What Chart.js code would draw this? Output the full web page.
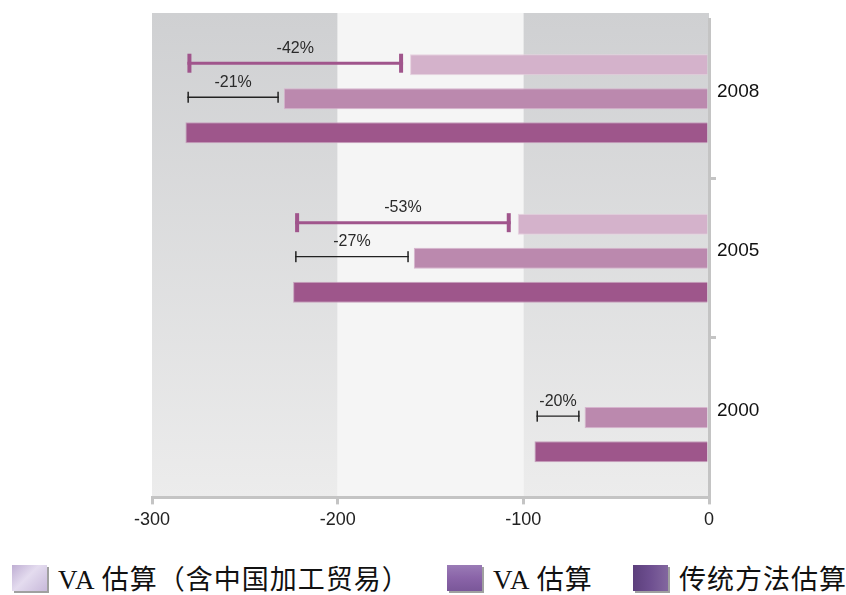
<!DOCTYPE html>
<html>
<head>
<meta charset="utf-8">
<script src="https://cdn.jsdelivr.net/npm/chart.js@4.4.1/dist/chart.umd.min.js"></script>
<style>
html, body { margin: 0; padding: 0; background: #fff; }
#wrap { position: relative; width: 846px; height: 595px; }
#chartBox { position: absolute; left: 0; top: 0; width: 846px; height: 550px; }
#legend { position: absolute; left: 0; top: 561px; width: 846px; height: 33px;
  font-family: "Liberation Serif", "Noto Sans CJK SC", serif; font-size: 27px; color: #111; letter-spacing: 1px; }
.item { position: absolute; top: 0; height: 33px; display: flex; align-items: center; white-space: nowrap; }
.box { width: 35px; height: 26px; margin-right: 11px; box-shadow: 2px 2px 0 #a0a0a0; }
</style>
</head>
<body>
<div id="wrap">
  <div id="chartBox"><canvas id="myChart"></canvas></div>
  <div id="legend"></div>
</div>
<script>
const years = ['2008', '2005', '2000'];
const vaProcessing = [-161, -103, null];
const vaEstimate = [-229, -159, -67];
const traditional = [-282, -224, -94];
const processingGap = ['-42%', '-53%', null];
const vaGap = ['-21%', '-27%', '-20%'];
const seriesNames = ['VA 估算（含中国加工贸易）', 'VA 估算', '传统方法估算'];

// shaded bands behind the bars
const bands = {
    id: 'bands',
    beforeDraw(chart) {
        const ctx = chart.ctx, a = chart.chartArea, x = chart.scales.x;
        const top = a.top - 6;
        const g = ctx.createLinearGradient(0, top, 0, a.bottom);
        g.addColorStop(0, '#cfd0d2');
        g.addColorStop(1, '#ececec');
        const edges = [-300, -200, -100, 0].map(v => x.getPixelForValue(v));
        ctx.save();
        ctx.fillStyle = g;
        ctx.fillRect(edges[0], top, edges[1] - edges[0], a.bottom - top);
        ctx.fillRect(edges[2], top, edges[3] - edges[2], a.bottom - top);
        ctx.fillStyle = '#f5f5f5';
        ctx.fillRect(edges[1], top, edges[2] - edges[1], a.bottom - top);
        ctx.restore();
    }
};

// gap markers from the traditional estimate to each VA estimate
const gapBars = {
    id: 'gapBars',
    afterDatasetsDraw(chart) {
        const ctx = chart.ctx, x = chart.scales.x;
        const specs = [
            { ds: 0, labels: processingGap, color: '#a0558c', width: 3, cap: 19, capW: 4, gap: 7 },
            { ds: 1, labels: vaGap, color: '#222', width: 1.3, cap: 11, capW: 1.5, gap: 5 }
        ];
        ctx.save();
        specs.forEach(s => {
            chart.getDatasetMeta(s.ds).data.forEach((bar, i) => {
                if (chart.data.datasets[s.ds].data[i] == null) return;
                const x0 = x.getPixelForValue(traditional[i]) + 2;
                const x1 = bar.x - s.gap;
                const y = bar.y - 1.5;
                ctx.strokeStyle = s.color;
                ctx.fillStyle = s.color;
                ctx.lineWidth = s.width;
                ctx.beginPath();
                ctx.moveTo(x0, y);
                ctx.lineTo(x1, y);
                ctx.stroke();
                ctx.fillRect(x0, y - s.cap / 2, s.capW, s.cap);
                ctx.fillRect(x1 - s.capW, y - s.cap / 2, s.capW, s.cap);
                ctx.fillStyle = '#2a2a2a';
                ctx.font = '16px "Liberation Sans", Arial, sans-serif';
                ctx.textAlign = 'center';
                ctx.textBaseline = 'middle';
                ctx.fillText(s.labels[i], (x0 + x1) / 2, y - 15);
            });
        });
        ctx.restore();
    }
};

const data = {
    labels: years,
    datasets: [
        { label: seriesNames[0], data: vaProcessing, backgroundColor: '#d4b2cb', borderColor: '#e6d2e0' },
        { label: seriesNames[1], data: vaEstimate, backgroundColor: '#bb89ae', borderColor: '#d6b4cd' },
        { label: seriesNames[2], data: traditional, backgroundColor: '#9e568b', borderColor: '#c6a0bc' }
    ]
};

const config = {
    type: 'bar',
    data: data,
    options: {
        indexAxis: 'y',
        responsive: true,
        maintainAspectRatio: false,
        animation: false,
        layout: { padding: { left: 152, right: 77, top: 19, bottom: 14 } },
        datasets: {
            bar: { borderWidth: 1, categoryPercentage: 0.64, barPercentage: 0.62 }
        },
        scales: {
            x: {
                min: -300,
                max: 0,
                ticks: { stepSize: 100, color: '#222', padding: 5,
                    font: { family: '"Liberation Sans", Arial, sans-serif', size: 18 } },
                grid: { drawOnChartArea: false, tickLength: 7, color: '#c4c4c4', lineWidth: 3 },
                border: { color: '#c4c4c4', width: 3 }
            },
            y: {
                position: 'right',
                afterFit(scale) { scale.width = 60; },
                ticks: { color: '#111', padding: 1, labelOffset: -7,
                    font: { family: '"Liberation Sans", Arial, sans-serif', size: 19 } },
                grid: {
                    drawOnChartArea: false, tickLength: 7, lineWidth: 3,
                    color: c => (c.index === 1 || c.index === 2) ? '#c4c4c4' : 'rgba(0,0,0,0)'
                },
                border: { color: '#c4c4c4', width: 3 }
            }
        },
        plugins: {
            legend: { display: false },
            tooltip: { enabled: false }
        }
    },
    plugins: [bands, gapBars]
};

var myChart = new Chart(document.getElementById('myChart'), config);

// legend below the chart
const legendBoxes = [
    'linear-gradient(135deg, #bfaed3 0%, #e4dcef 45%, #c8b9da 100%)',
    'linear-gradient(180deg, #9a7bb6 0%, #8a64a8 50%, #7a5799 100%)',
    'linear-gradient(90deg, #5c3f7c 0%, #6e4f90 50%, #83679f 100%)'
];
const legendLeft = [12, 447, 633];
const legendEl = document.getElementById('legend');
seriesNames.forEach((name, i) => {
    const item = document.createElement('div');
    item.className = 'item';
    item.style.left = legendLeft[i] + 'px';
    const box = document.createElement('span');
    box.className = 'box';
    box.style.background = legendBoxes[i];
    const txt = document.createElement('span');
    txt.textContent = name;
    item.appendChild(box);
    item.appendChild(txt);
    legendEl.appendChild(item);
});
</script>
</body>
</html>
